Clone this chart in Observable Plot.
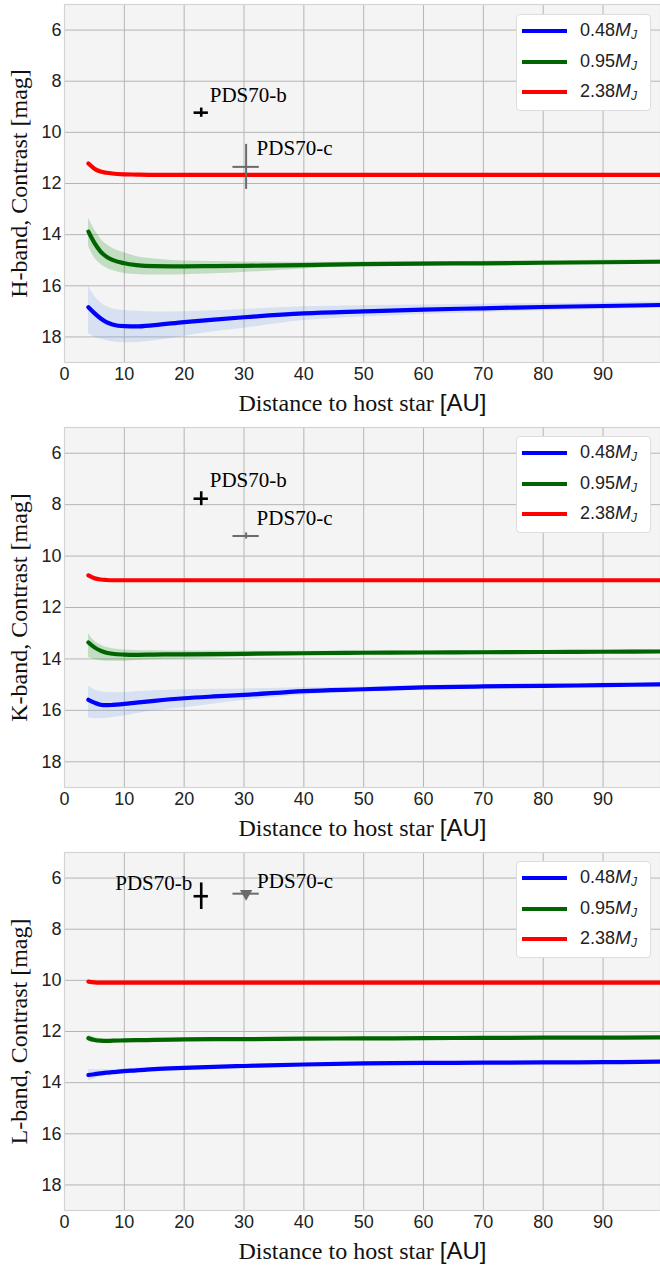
<!DOCTYPE html>
<html>
<head>
<meta charset="utf-8">
<script src="https://cdn.jsdelivr.net/npm/d3@7"></script>
<script src="https://cdn.jsdelivr.net/npm/@observablehq/plot@0.6"></script>
<style>
  body { margin: 0; background: #fff; }
  .panel { position: relative; width: 660px; }
  .panel svg { display: block; }
  .legend { position: absolute; left: 516px; top: 14px; width: 135px; height: 97px; background: #fff;
            border: 1px solid #dddddd; border-radius: 4px; box-sizing: border-box;
            font-family: "Liberation Sans", sans-serif; font-size: 18px; color: #222; }
  .legend .sw { position: absolute; left: 5px; width: 45px; height: 4px; }
  .legend .tx { position: absolute; left: 63px; height: 22px; line-height: 22px; white-space: nowrap; }
  .legend i { font-size: 19px; }
  .legend sub { font-size: 12px; font-style: italic; vertical-align: -3px; }
</style>
</head>
<body>
<div id="chart"></div>
<script>
// ---------- data ----------
const xs = [4, 5, 6, 7, 8, 10, 12, 15, 20, 25, 30, 40, 50, 60, 70, 80, 90, 100];
const xTicks = [0, 10, 20, 30, 40, 50, 60, 70, 80, 90];
const yTicks = [6, 8, 10, 12, 14, 16, 18];
const massLabels = ["0.48", "0.95", "2.38"];
const bandNames = ["H", "K", "L"];

// H band
const H_blue     = [16.84, 17.07, 17.27, 17.42, 17.51, 17.58, 17.59, 17.54, 17.42, 17.32, 17.23, 17.08, 17.00, 16.93, 16.88, 16.83, 16.79, 16.75];
const H_blueLo   = [16.00, 16.40, 16.65, 16.80, 16.90, 16.97, 17.00, 17.03, 17.02, 16.98, 16.93, 16.82, 16.78, 16.75, 16.72, 16.69, 16.66, 16.63];
const H_blueHi   = [17.87, 18.00, 18.08, 18.14, 18.19, 18.23, 18.22, 18.15, 17.97, 17.80, 17.66, 17.36, 17.22, 17.12, 17.04, 16.98, 16.93, 16.88];
const H_green    = [13.88, 14.32, 14.65, 14.86, 14.99, 15.12, 15.19, 15.23, 15.24, 15.23, 15.22, 15.19, 15.15, 15.13, 15.12, 15.10, 15.08, 15.06];
const H_greenLo  = [13.35, 13.80, 14.15, 14.38, 14.53, 14.71, 14.85, 14.95, 15.03, 15.05, 15.07, 15.08, 15.07, 15.05, 15.04, 15.02, 15.00, 14.98];
const H_greenHi  = [14.45, 14.90, 15.15, 15.30, 15.40, 15.52, 15.56, 15.58, 15.57, 15.53, 15.48, 15.34, 15.24, 15.21, 15.20, 15.18, 15.16, 15.14];
const H_red      = [11.22, 11.42, 11.53, 11.58, 11.61, 11.64, 11.65, 11.66, 11.66, 11.66, 11.66, 11.66, 11.66, 11.66, 11.66, 11.66, 11.66, 11.66];

// K band
const K_blue     = [15.59, 15.70, 15.78, 15.80, 15.79, 15.75, 15.70, 15.63, 15.53, 15.46, 15.40, 15.25, 15.18, 15.11, 15.07, 15.05, 15.02, 14.99];
const K_blueLo   = [15.05, 15.20, 15.28, 15.31, 15.32, 15.31, 15.28, 15.24, 15.20, 15.18, 15.17, 15.12, 15.09, 15.03, 15.00, 14.97, 14.95, 14.92];
const K_blueHi   = [16.29, 16.32, 16.33, 16.31, 16.28, 16.22, 16.13, 16.02, 15.90, 15.75, 15.62, 15.40, 15.28, 15.19, 15.14, 15.12, 15.09, 15.06];
const K_green    = [13.36, 13.55, 13.68, 13.76, 13.80, 13.83, 13.84, 13.83, 13.82, 13.81, 13.80, 13.78, 13.76, 13.75, 13.74, 13.73, 13.72, 13.71];
const K_greenLo  = [13.02, 13.30, 13.45, 13.55, 13.60, 13.65, 13.67, 13.68, 13.69, 13.69, 13.70, 13.70, 13.69, 13.69, 13.68, 13.67, 13.66, 13.65];
const K_greenHi  = [13.93, 14.02, 14.07, 14.09, 14.09, 14.09, 14.06, 14.03, 14.00, 13.96, 13.92, 13.87, 13.83, 13.81, 13.80, 13.79, 13.78, 13.77];
const K_red      = [10.75, 10.86, 10.91, 10.93, 10.94, 10.94, 10.94, 10.94, 10.94, 10.94, 10.94, 10.94, 10.94, 10.94, 10.94, 10.94, 10.94, 10.94];

// L band
const L_blue     = [13.70, 13.67, 13.64, 13.61, 13.59, 13.55, 13.52, 13.47, 13.42, 13.38, 13.35, 13.29, 13.25, 13.23, 13.22, 13.21, 13.20, 13.18];
const L_blueLo   = [13.48, 13.49, 13.50, 13.50, 13.50, 13.46, 13.44, 13.41, 13.37, 13.34, 13.31, 13.26, 13.22, 13.20, 13.19, 13.18, 13.17, 13.15];
const L_blueHi   = [13.94, 13.85, 13.78, 13.72, 13.68, 13.64, 13.60, 13.54, 13.48, 13.43, 13.39, 13.32, 13.28, 13.26, 13.25, 13.24, 13.23, 13.21];
const L_green    = [12.26, 12.33, 12.36, 12.37, 12.36, 12.35, 12.34, 12.33, 12.31, 12.30, 12.30, 12.28, 12.27, 12.26, 12.25, 12.24, 12.24, 12.23];
const L_greenLo  = [12.15, 12.22, 12.28, 12.31, 12.32, 12.31, 12.31, 12.30, 12.29, 12.28, 12.28, 12.26, 12.25, 12.24, 12.23, 12.22, 12.22, 12.21];
const L_greenHi  = [12.39, 12.42, 12.43, 12.43, 12.41, 12.39, 12.38, 12.36, 12.33, 12.32, 12.32, 12.30, 12.29, 12.28, 12.27, 12.26, 12.26, 12.25];
const L_red      = [10.05, 10.08, 10.09, 10.09, 10.09, 10.09, 10.09, 10.09, 10.09, 10.09, 10.09, 10.09, 10.09, 10.09, 10.09, 10.09, 10.09, 10.09];

// planets
const planetNames  = ["PDS70-b", "PDS70-c"];
const planetSep    = [22.85, 30.35];
const planetSepErr = [1.2, 2.2];
const H_planetMag  = [9.23, 11.35];
const H_planetErr  = [0.18, 0.88];
const K_planetMag  = [7.77, 9.22];
const K_planetErr  = [0.27, 0.12];
const L_planetMag  = [6.71, 6.61];
const L_planetErr  = [0.52, 0.0];
const L_upperLimit = [false, true];

// ---------- styles ----------
const massColors = ["#0000ff", "#006400", "#ff0000"];
const bandFill = ["#6495ed", "#008000", null];
const planetColors = ["#000000", "#6b6b6b"];
const planetWidths = [2.6, 2.0];
const sans = "'Liberation Sans', Arial, sans-serif";
const serif = "'Liberation Serif', 'Times New Roman', serif";

const bandData = {
  H: {lines: [H_blue, H_green, H_red], lo: [H_blueLo, H_greenLo, null], hi: [H_blueHi, H_greenHi, null],
      mag: H_planetMag, err: H_planetErr, limit: [false, false]},
  K: {lines: [K_blue, K_green, K_red], lo: [K_blueLo, K_greenLo, null], hi: [K_blueHi, K_greenHi, null],
      mag: K_planetMag, err: K_planetErr, limit: [false, false]},
  L: {lines: [L_blue, L_green, L_red], lo: [L_blueLo, L_greenLo, null], hi: [L_blueHi, L_greenHi, null],
      mag: L_planetMag, err: L_planetErr, limit: L_upperLimit}
};

const layout = {
  H: {height: 423, marginTop: 4, marginBottom: 61, legendTop: 14, labels: [{dx: 8.5, dy: -11, anchor: "start"}, {dx: 10.5, dy: -12, anchor: "start"}]},
  K: {height: 425, marginTop: 4, marginBottom: 61, legendTop: 13, labels: [{dx: 8.5, dy: -12, anchor: "start"}, {dx: 10.5, dy: -11, anchor: "start"}]},
  L: {height: 420, marginTop: 4, marginBottom: 58, legendTop: 13, labels: [{dx: -9, dy: -6, anchor: "end"}, {dx: 11, dy: -5.5, anchor: "start"}]}
};

const xLabel = "Distance to host star [AU]";

function makePanel(band) {
  const d = bandData[band];
  const lay = layout[band];
  const marks = [
    Plot.frame({fill: "#f4f4f4", stroke: null}),
    Plot.gridX(xTicks, {stroke: "#b5b5b5", strokeOpacity: 1, strokeWidth: 1}),
    Plot.gridY(yTicks, {stroke: "#b5b5b5", strokeOpacity: 1, strokeWidth: 1}),
    Plot.frame({stroke: "#d4d4d4", strokeWidth: 1.2})
  ];
  // uncertainty bands
  d.lines.forEach((ys, k) => {
    if (!d.lo[k]) return;
    const rows = xs.map((x, i) => ({x, lo: d.lo[k][i], hi: d.hi[k][i]}));
    marks.push(Plot.areaY(rows, {x: "x", y1: "lo", y2: "hi", fill: bandFill[k], fillOpacity: 0.2,
      curve: "monotone-x", clip: true}));
  });
  // contrast curves
  d.lines.forEach((ys, k) => {
    const rows = xs.map((x, i) => ({x, y: ys[i]}));
    marks.push(Plot.line(rows, {x: "x", y: "y", stroke: massColors[k], strokeWidth: 4.2,
      curve: "monotone-x", clip: true}));
  });
  // planets
  planetNames.forEach((name, j) => {
    const row = [{x: planetSep[j], xe: planetSepErr[j], y: d.mag[j], ye: d.err[j], name}];
    const col = planetColors[j], sw = planetWidths[j];
    marks.push(Plot.ruleY(row, {y: "y", x1: r => r.x - r.xe, x2: r => r.x + r.xe, stroke: col, strokeWidth: sw}));
    if (row[0].ye > 0)
      marks.push(Plot.ruleX(row, {x: "x", y1: r => r.y - r.ye, y2: r => r.y + r.ye, stroke: col, strokeWidth: sw}));
    if (d.limit[j])
      marks.push(Plot.dot(row, {x: "x", y: "y", symbol: "triangle", rotate: 180, r: 4.6, fill: col, stroke: null}));
    const lab = lay.labels[j];
    marks.push(Plot.text(row, {x: "x", y: "y", text: "name", dx: lab.dx, dy: lab.dy, textAnchor: lab.anchor,
      lineAnchor: "bottom", fontFamily: serif, fontSize: 21, fill: "#000"}));
  });
  // axes
  marks.push(Plot.axisX(xTicks, {tickSize: 0, tickPadding: 5, fontSize: 18, fontFamily: sans, fill: "#222", label: null}));
  marks.push(Plot.axisY(yTicks, {tickSize: 0, tickPadding: 3, fontSize: 18, fontFamily: sans, fill: "#222", label: null}));
  marks.push(Plot.text([xLabel], {frameAnchor: "bottom", dy: 48, text: t => t, textAnchor: "middle", lineAnchor: "bottom",
    fontFamily: serif, fontSize: 24, fill: "#111"}));
  marks.push(Plot.text([`${band}-band, Contrast [mag]`], {frameAnchor: "left", dx: -38, rotate: -90, text: t => t,
    textAnchor: "middle", lineAnchor: "bottom", fontFamily: serif, fontSize: 24, fill: "#111"}));

  const svg = Plot.plot({
    width: 660,
    height: lay.height,
    marginLeft: 64,
    marginRight: 0,
    marginTop: lay.marginTop,
    marginBottom: lay.marginBottom,
    x: {domain: [0, 99.6]},
    y: {domain: [5, 19], reverse: true},
    style: {background: "white"},
    marks
  });
  // "[AU]" set in sans-serif as in the original
  svg.querySelectorAll("text").forEach(t => {
    if (t.textContent === xLabel) {
      t.innerHTML = 'Distance to host star <tspan font-family="Liberation Sans, Arial, sans-serif">[AU]</tspan>';
    }
  });
  const div = document.createElement("div");
  div.className = "panel";
  div.appendChild(svg);
  // legend (inside plot area, upper right)
  const leg = document.createElement("div");
  leg.className = "legend";
  leg.style.top = lay.legendTop + "px";
  massLabels.forEach((m, k) => {
    const y = 16 + k * 30.6;
    const sw = document.createElement("div");
    sw.className = "sw"; sw.style.top = (y - 2) + "px"; sw.style.background = massColors[k];
    const tx = document.createElement("div");
    tx.className = "tx"; tx.style.top = (y - 12) + "px";
    tx.innerHTML = `${m}<i>M</i><sub>J</sub>`;
    leg.appendChild(sw); leg.appendChild(tx);
  });
  div.appendChild(leg);
  return div;
}

const root = document.getElementById("chart");
bandNames.forEach(b => root.appendChild(makePanel(b)));
</script>
</body>
</html>
